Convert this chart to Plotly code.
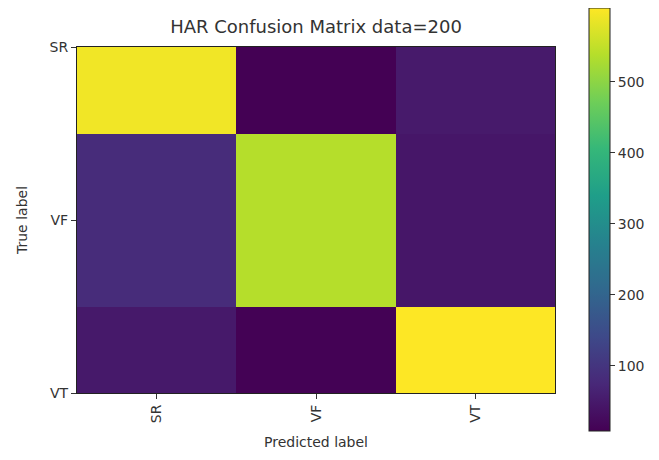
import plotly.graph_objects as go

labels = ["SR", "VF", "VT"]
# rows = true label, columns = predicted label
row_sr = [593, 8, 50]
row_vf = [82, 538, 44]
row_vt = [48, 10, 604]
cbar_ticks = [100, 200, 300, 400, 500]

z = [row_sr, row_vf, row_vt]

# page body has an 8px margin, so the figure is sized/offset to compensate
W, H = 643, 444
L, R, T, B = 69, 96, 39, 59
pw = W - L - R
ph = H - T - B

fig = go.Figure(go.Heatmap(
    z=z, x=[0, 1, 2], y=[0, 1, 2],
    colorscale="Viridis", zmin=8, zmax=604,
    showscale=True,
    colorbar=dict(
        thickness=21, lenmode="pixels", len=423,
        x=(581 - L) / pw, xanchor="left",
        y=(H - B) / ph, yanchor="top", ypad=0, xpad=0,
        outlinecolor="#222", outlinewidth=1,
        tickvals=cbar_ticks, ticks="outside", ticklen=5, tickcolor="#333",
        tickfont=dict(size=14, color="#333"),
    ),
    hoverinfo="skip",
))

axis_common = dict(
    showgrid=False, zeroline=False, showline=True, linecolor="#222", linewidth=1,
    mirror=True, ticks="outside", ticklen=5, tickcolor="#333", automargin=False,
    tickfont=dict(size=14, color="#333"),
)

fig.update_layout(
    width=W, height=H,
    margin=dict(l=L, r=R, t=T, b=B, autoexpand=False),
    paper_bgcolor="white", plot_bgcolor="white",
    font=dict(family="DejaVu Sans", color="#333"),
    title=dict(text="HAR Confusion Matrix data=200", x=(L + pw / 2) / W,
               xanchor="center", y=1 - 19 / H, yanchor="middle",
               font=dict(size=18, color="#333")),
    xaxis=dict(axis_common, range=[-0.5, 2.5], tickvals=[0, 1, 2], ticktext=labels,
               tickangle=-90,
               title=dict(text="Predicted label", font=dict(size=14, color="#333"), standoff=14)),
    yaxis=dict(axis_common, range=[2, 0], tickvals=[0, 1, 2], ticktext=labels,
               title=dict(text="True label", font=dict(size=14, color="#333"), standoff=18)),
)

fig.write_html("out.html")
